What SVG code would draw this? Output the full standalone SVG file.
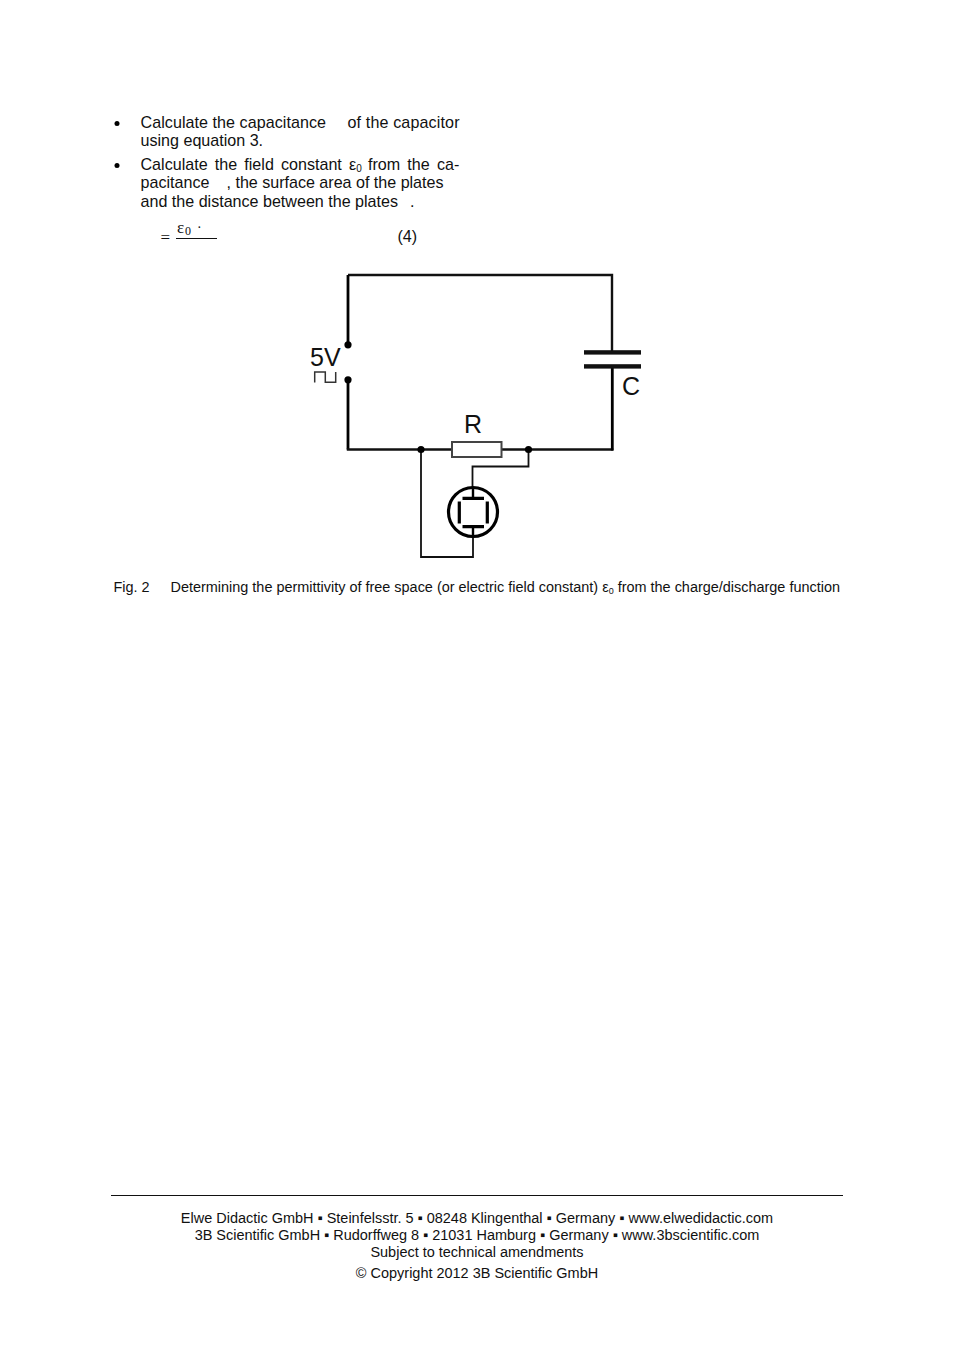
<svg xmlns="http://www.w3.org/2000/svg" width="954" height="1351" viewBox="0 0 954 1351">
<style>
text{font-family:"Liberation Sans",Arial,sans-serif;fill:#111}
.b{font-size:16.1px}
.c{font-size:14.44px}
.f{font-size:14.47px;text-anchor:middle}
.m{font-family:"Liberation Serif","Times New Roman",serif}
.w{fill:none;stroke:#111;stroke-width:2.4}
.x{fill:none;stroke:#000;stroke-width:2.8}
.t{fill:none;stroke:#111;stroke-width:1.8}
.d{fill:#000}
.l{font-size:25px}
</style>
<rect width="954" height="1351" fill="#fff"/>
<g id="body-text">
<circle class="d" cx="117" cy="123.500" r="2.500"/>
<circle class="d" cx="117" cy="165.500" r="2.500"/>
<text class="b" x="140.500" y="128" textLength="185.500">Calculate the capacitance</text>
<text class="b" x="347.500" y="128" textLength="112">of the capacitor</text>
<text class="b" x="140.500" y="146">using equation 3.</text>
<text class="b" x="140.500" y="170" word-spacing="2.700">Calculate the field constant ε<tspan font-size="10" dy="2">0</tspan><tspan x="368" dy="-2">from the ca-</tspan></text>
<text class="b" x="140.500" y="188">pacitance</text>
<text class="b" x="226.500" y="188" textLength="217">, the surface area of the plates</text>
<text class="b" x="140.500" y="207" textLength="257.500">and the distance between the plates</text>
<text class="b" x="410" y="207">.</text>
<text class="m" x="160.500" y="243" font-size="17">=</text>
<text class="m" x="177" y="233" font-size="17">ε</text>
<text class="m" x="185" y="235" font-size="12">0</text>
<text class="m" x="197" y="232" font-size="14">·</text>
<line x1="176" y1="238.500" x2="217" y2="238.500" stroke="#111" stroke-width="1"/>
<text class="b" x="397.500" y="242">(4)</text>
</g>
<g id="connectors">
<path class="w" d="M348 275H612V352"/>
<path class="x" d="M348 345V275"/>
<path class="x" d="M348 380V449.500"/>
<path class="w" d="M346.800 449.500H452"/>
<path class="w" d="M501 449.500H613.300"/>
<path class="x" d="M612.300 450.500V367"/>
<path class="t" d="M421 449.500V557H473V538"/>
<path class="t" d="M528.500 449.500V466.500H472.500V488"/>
</g>
<g id="source">
<circle class="d" cx="348" cy="344.800" r="3.600"/>
<circle class="d" cx="348" cy="379.800" r="3.600"/>
<text class="l" x="310" y="366">5V</text>
<path d="M314.700 382.500V372H325.300V382.300H335.700V372" fill="none" stroke="#333" stroke-width="1.500"/>
</g>
<g id="capacitor">
<rect x="584" y="350.200" width="57" height="4.400" fill="#111"/>
<rect x="584" y="364.200" width="57" height="4.400" fill="#111"/>
<text class="l" x="622" y="395">C</text>
</g>
<g id="resistor">
<rect x="452" y="442" width="49.500" height="15" fill="#fff" stroke="#444" stroke-width="2"/>
<text class="l" x="464" y="433">R</text>
<circle class="d" cx="421" cy="449.500" r="3.600"/>
<circle class="d" cx="528.500" cy="449.500" r="3.600"/>
</g>
<g id="tube">
<circle cx="473" cy="512" r="24.500" fill="none" stroke="#000" stroke-width="3.200"/>
<path d="M462.500 498.300H484M462.500 526.700H484" stroke="#000" stroke-width="3.200" fill="none"/>
<path d="M459.300 501.500V523.500M487.300 501.500V523.500" stroke="#000" stroke-width="3.200" fill="none"/>
<path d="M473 488V498M473 527V538" stroke="#000" stroke-width="2.400" fill="none"/>
</g>
<g id="caption">
<text class="c" x="113.500" y="592">Fig. 2</text>
<text class="c" x="170.500" y="592">Determining the permittivity of free space (or electric field constant) ε<tspan font-size="9" dy="2">0</tspan><tspan dy="-2"> from the charge/discharge function</tspan></text>
</g>
<g id="footer">
<line x1="111" y1="1195.500" x2="843" y2="1195.500" stroke="#111" stroke-width="1"/>
<text class="f" x="477" y="1223">Elwe Didactic GmbH ▪ Steinfelsstr. 5 ▪ 08248 Klingenthal ▪ Germany ▪ www.elwedidactic.com</text>
<text class="f" x="477" y="1240">3B Scientific GmbH ▪ Rudorffweg 8 ▪ 21031 Hamburg ▪ Germany ▪ www.3bscientific.com</text>
<text class="f" x="477" y="1257">Subject to technical amendments</text>
<text class="f" x="477" y="1278">© Copyright 2012 3B Scientific GmbH</text>
</g>
</svg>
